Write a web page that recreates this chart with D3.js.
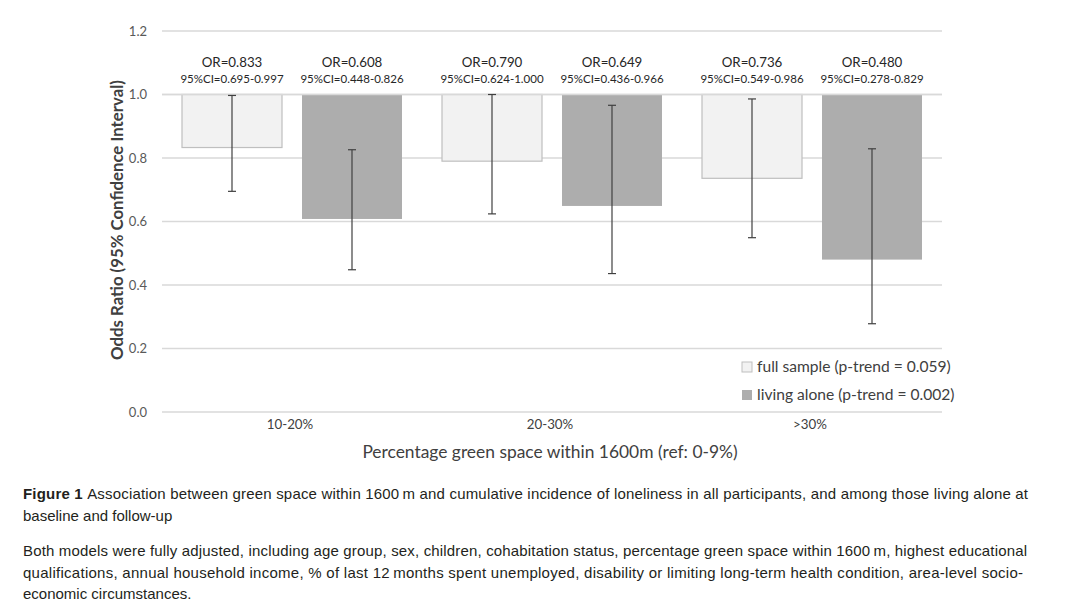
<!DOCTYPE html>
<html>
<head>
<meta charset="utf-8">
<script src="https://cdn.jsdelivr.net/npm/d3@7/dist/d3.min.js"></script>
<style>
  html, body { margin: 0; padding: 0; background: #fff; }
  svg { display: block; }
  .chart text { font-family: Lato, "Open Sans", sans-serif; }
  .caption text { font-family: "Liberation Sans", Arial, sans-serif; fill: #231f20; font-size: 15px; }
</style>
</head>
<body>
<svg id="fig" width="1070" height="614"></svg>
<script>
'use strict';

// categories and series
var categories = ['10-20%', '20-30%', '>30%'];
var seriesNames = ['full sample (p-trend = 0.059)', 'living alone (p-trend = 0.002)'];

// odds ratios with 95% CI
var fullOR = [0.833, 0.790, 0.736];
var fullLo = [0.695, 0.624, 0.549];
var fullHi = [0.997, 1.000, 0.986];
var aloneOR = [0.608, 0.649, 0.480];
var aloneLo = [0.448, 0.436, 0.278];
var aloneHi = [0.826, 0.966, 0.829];

var yTicks = [0, 0.2, 0.4, 0.6, 0.8, 1.0, 1.2];

var captionLines = [
  'Association between green space within 1600\u2009m and cumulative incidence of loneliness in all participants, and among those living alone at',
  'baseline and follow-up'
];
var noteLines = [
  'Both models were fully adjusted, including age group, sex, children, cohabitation status, percentage green space within 1600\u2009m, highest educational',
  'qualifications, annual household income, % of last 12\u2009months spent unemployed, disability or limiting long-term health condition, area-level socio-',
  'economic circumstances.'
];

var fills = ['#f2f2f2', '#adadad'];
var strokes = ['#bfbfbf', 'none'];

var svg = d3.select('#fig');
var g = svg.append('g').attr('class', 'chart');

var x = d3.scaleBand().domain(categories).range([162, 942]);
var xs = d3.scaleBand().domain([0, 1]).range([0, x.bandwidth()])
  .paddingInner(1 / 6).paddingOuter(1 / 6);
var y = d3.scaleLinear().domain([0, 1.2]).range([412, 31]);

// rows: one per bar
var rows = [];
categories.forEach(function (c, i) {
  rows.push({cat: c, s: 0, or: fullOR[i], lo: fullLo[i], hi: fullHi[i]});
  rows.push({cat: c, s: 1, or: aloneOR[i], lo: aloneLo[i], hi: aloneHi[i]});
});

// gridlines
g.append('g').selectAll('line')
  .data(yTicks)
  .enter().append('line')
  .attr('x1', 162).attr('x2', 942)
  .attr('y1', function (d) { return y(d); })
  .attr('y2', function (d) { return y(d); })
  .attr('stroke', '#d9d9d9')
  .attr('stroke-width', 1.3);

// y tick labels
g.append('g').selectAll('text')
  .data(yTicks)
  .enter().append('text')
  .attr('x', 147)
  .attr('y', function (d) { return y(d); })
  .attr('dy', '0.35em')
  .attr('text-anchor', 'end')
  .attr('font-size', 13)
  .attr('fill', '#595959')
  .text(function (d) { return d.toFixed(1); });

// bars hang from 1.0 (axis crossing)
var bx = function (d) { return x(d.cat) + xs(d.s); };
g.append('g').selectAll('rect')
  .data(rows)
  .enter().append('rect')
  .attr('x', bx)
  .attr('y', y(1))
  .attr('width', xs.bandwidth())
  .attr('height', function (d) { return y(d.or) - y(1); })
  .attr('fill', function (d) { return fills[d.s]; })
  .attr('stroke', function (d) { return strokes[d.s]; })
  .attr('stroke-width', 1.2);

// redraw the 1.0 line over the bars
g.append('line')
  .attr('x1', 162).attr('x2', 942)
  .attr('y1', y(1)).attr('y2', y(1))
  .attr('stroke', '#d9d9d9')
  .attr('stroke-width', 1.3);

// error bars
var eb = g.append('g').selectAll('g')
  .data(rows)
  .enter().append('g')
  .attr('stroke', '#404040')
  .attr('stroke-width', 1.2);
var cx = function (d) { return bx(d) + xs.bandwidth() / 2; };
eb.append('line')
  .attr('x1', cx).attr('x2', cx)
  .attr('y1', function (d) { return y(d.hi); })
  .attr('y2', function (d) { return y(d.lo); });
eb.append('line')
  .attr('x1', function (d) { return cx(d) - 4; })
  .attr('x2', function (d) { return cx(d) + 4; })
  .attr('y1', function (d) { return y(d.hi); })
  .attr('y2', function (d) { return y(d.hi); });
eb.append('line')
  .attr('x1', function (d) { return cx(d) - 4; })
  .attr('x2', function (d) { return cx(d) + 4; })
  .attr('y1', function (d) { return y(d.lo); })
  .attr('y2', function (d) { return y(d.lo); });

// OR / CI labels
var lab = g.append('g').selectAll('g')
  .data(rows)
  .enter().append('g');
lab.append('text')
  .attr('x', cx)
  .attr('y', 67)
  .attr('text-anchor', 'middle')
  .attr('font-size', 13.3)
  .attr('fill', '#262626')
  .text(function (d) { return 'OR=' + d.or.toFixed(3); });
lab.append('text')
  .attr('x', cx)
  .attr('y', 82.5)
  .attr('text-anchor', 'middle')
  .attr('font-size', 11.5)
  .attr('fill', '#262626')
  .text(function (d) { return '95%CI=' + d.lo.toFixed(3) + '-' + d.hi.toFixed(3); });

// x tick labels
g.append('g').selectAll('text')
  .data(categories)
  .enter().append('text')
  .attr('x', function (d) { return x(d) + x.bandwidth() / 2 - 2; })
  .attr('y', 428.5)
  .attr('text-anchor', 'middle')
  .attr('font-size', 13.3)
  .attr('fill', '#404040')
  .text(function (d) { return d; });

// axis titles
g.append('text')
  .attr('transform', 'translate(123,220) rotate(-90)')
  .attr('text-anchor', 'middle')
  .attr('font-size', 16.8)
  .attr('font-weight', 'bold')
  .attr('fill', '#404040')
  .text('Odds Ratio (95% Confidence Interval)');
g.append('text')
  .attr('x', 550)
  .attr('y', 458)
  .attr('text-anchor', 'middle')
  .attr('font-size', 17.4)
  .attr('fill', '#404040')
  .text('Percentage green space within 1600m (ref: 0-9%)');

// legend
var lg = g.append('g').selectAll('g')
  .data(seriesNames)
  .enter().append('g')
  .attr('transform', function (d, i) { return 'translate(742,' + (362 + i * 28) + ')'; });
lg.append('rect')
  .attr('width', 10).attr('height', 10)
  .attr('fill', function (d, i) { return fills[i]; })
  .attr('stroke', function (d, i) { return i === 0 ? '#bfbfbf' : 'none'; });
lg.append('text')
  .attr('x', 15)
  .attr('y', 10)
  .attr('font-size', 15.6)
  .attr('fill', '#404040')
  .text(function (d) { return d; });

// caption
var cap = svg.append('g').attr('class', 'caption');
var t1 = cap.append('text').attr('x', 23).attr('y', 499)
  .attr('textLength', 1005).attr('lengthAdjust', 'spacing');
t1.append('tspan').attr('font-weight', 'bold').text('Figure 1 ');
t1.append('tspan').text(captionLines[0]);
cap.append('text').attr('x', 23).attr('y', 521).text(captionLines[1]);
var noteLen = [1004, 1000, null];
cap.selectAll('text.note')
  .data(noteLines)
  .enter().append('text')
  .attr('class', 'note')
  .attr('x', 23)
  .attr('y', function (d, i) { return 556 + i * 21.5; })
  .attr('textLength', function (d, i) { return noteLen[i]; })
  .attr('lengthAdjust', 'spacing')
  .text(function (d) { return d; });
</script>
</body>
</html>
